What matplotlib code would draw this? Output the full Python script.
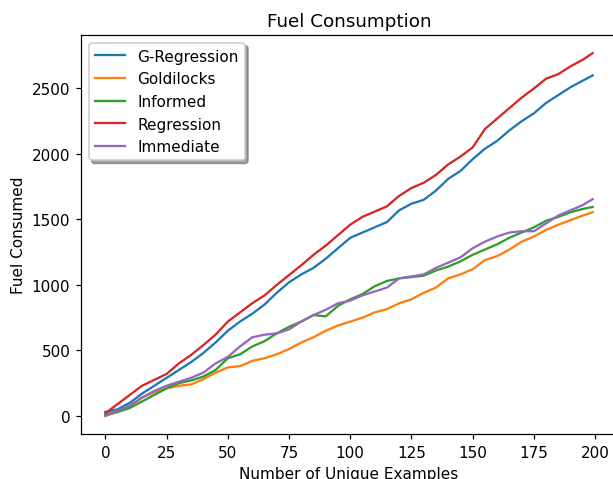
import matplotlib
matplotlib.use("Agg")
import matplotlib.pyplot as plt

x = [0, 5, 10, 15, 20, 25, 30, 35, 40, 45, 50, 55, 60, 65, 70, 75, 80, 85, 90, 95,
     100, 105, 110, 115, 120, 125, 130, 135, 140, 145, 150, 155, 160, 165, 170, 175,
     180, 185, 190, 195, 199]

g_regression = [30, 50, 100, 170, 230, 290, 350, 410, 480, 560, 650, 720, 780, 850, 940,
                1020, 1080, 1130, 1200, 1280, 1360, 1400, 1440, 1480, 1570, 1620, 1650,
                1720, 1810, 1870, 1960, 2040, 2100, 2180, 2250, 2310, 2390, 2450, 2510,
                2560, 2600]
goldilocks = [0, 30, 70, 140, 180, 210, 230, 240, 280, 330, 370, 380, 420, 440, 470, 510,
              560, 600, 650, 690, 720, 750, 790, 815, 860, 890, 940, 980, 1050, 1080, 1120,
              1190, 1220, 1270, 1330, 1370, 1420, 1460, 1495, 1530, 1555]
informed = [10, 30, 60, 110, 160, 210, 250, 270, 300, 350, 440, 470, 530, 570, 630, 680,
            720, 770, 760, 840, 890, 930, 990, 1030, 1050, 1060, 1070, 1110, 1140, 1180,
            1230, 1270, 1310, 1360, 1400, 1440, 1490, 1520, 1555, 1580, 1595]
regression = [20, 90, 160, 230, 275, 320, 400, 465, 540, 620, 720, 790, 860, 920, 1000,
              1075, 1150, 1230, 1300, 1380, 1460, 1520, 1560, 1600, 1680, 1740, 1780, 1840,
              1920, 1980, 2050, 2190, 2270, 2350, 2430, 2500, 2575, 2610, 2670, 2720, 2770]
immediate = [0, 40, 80, 140, 190, 230, 260, 290, 330, 400, 450, 530, 600, 620, 630, 660,
             720, 770, 810, 860, 880, 920, 950, 980, 1050, 1065, 1080, 1130, 1170, 1210,
             1280, 1330, 1370, 1400, 1410, 1410, 1470, 1530, 1570, 1610, 1655]

series = [("G-Regression", g_regression), ("Goldilocks", goldilocks),
          ("Informed", informed), ("Regression", regression), ("Immediate", immediate)]

DPI = 110
fig = plt.figure(figsize=(613 / DPI, 480 / DPI), dpi=DPI)
ax = fig.add_axes([81 / 613, 45 / 480, 536 / 613, 399 / 480])
for label, vals in series:
    ax.plot(x, vals, label=label, linewidth=1.5)

ax.set_title("Fuel Consumption", fontsize=12)
ax.set_xlabel("Number of Unique Examples", fontsize=10)
ax.set_ylabel("Fuel Consumed", fontsize=10)
ax.set_xticks([0, 25, 50, 75, 100, 125, 150, 175, 200])
ax.set_yticks([0, 500, 1000, 1500, 2000, 2500])
ax.legend(loc="upper left", shadow=True, fontsize=10)

fig.savefig("out.png", dpi=DPI)
